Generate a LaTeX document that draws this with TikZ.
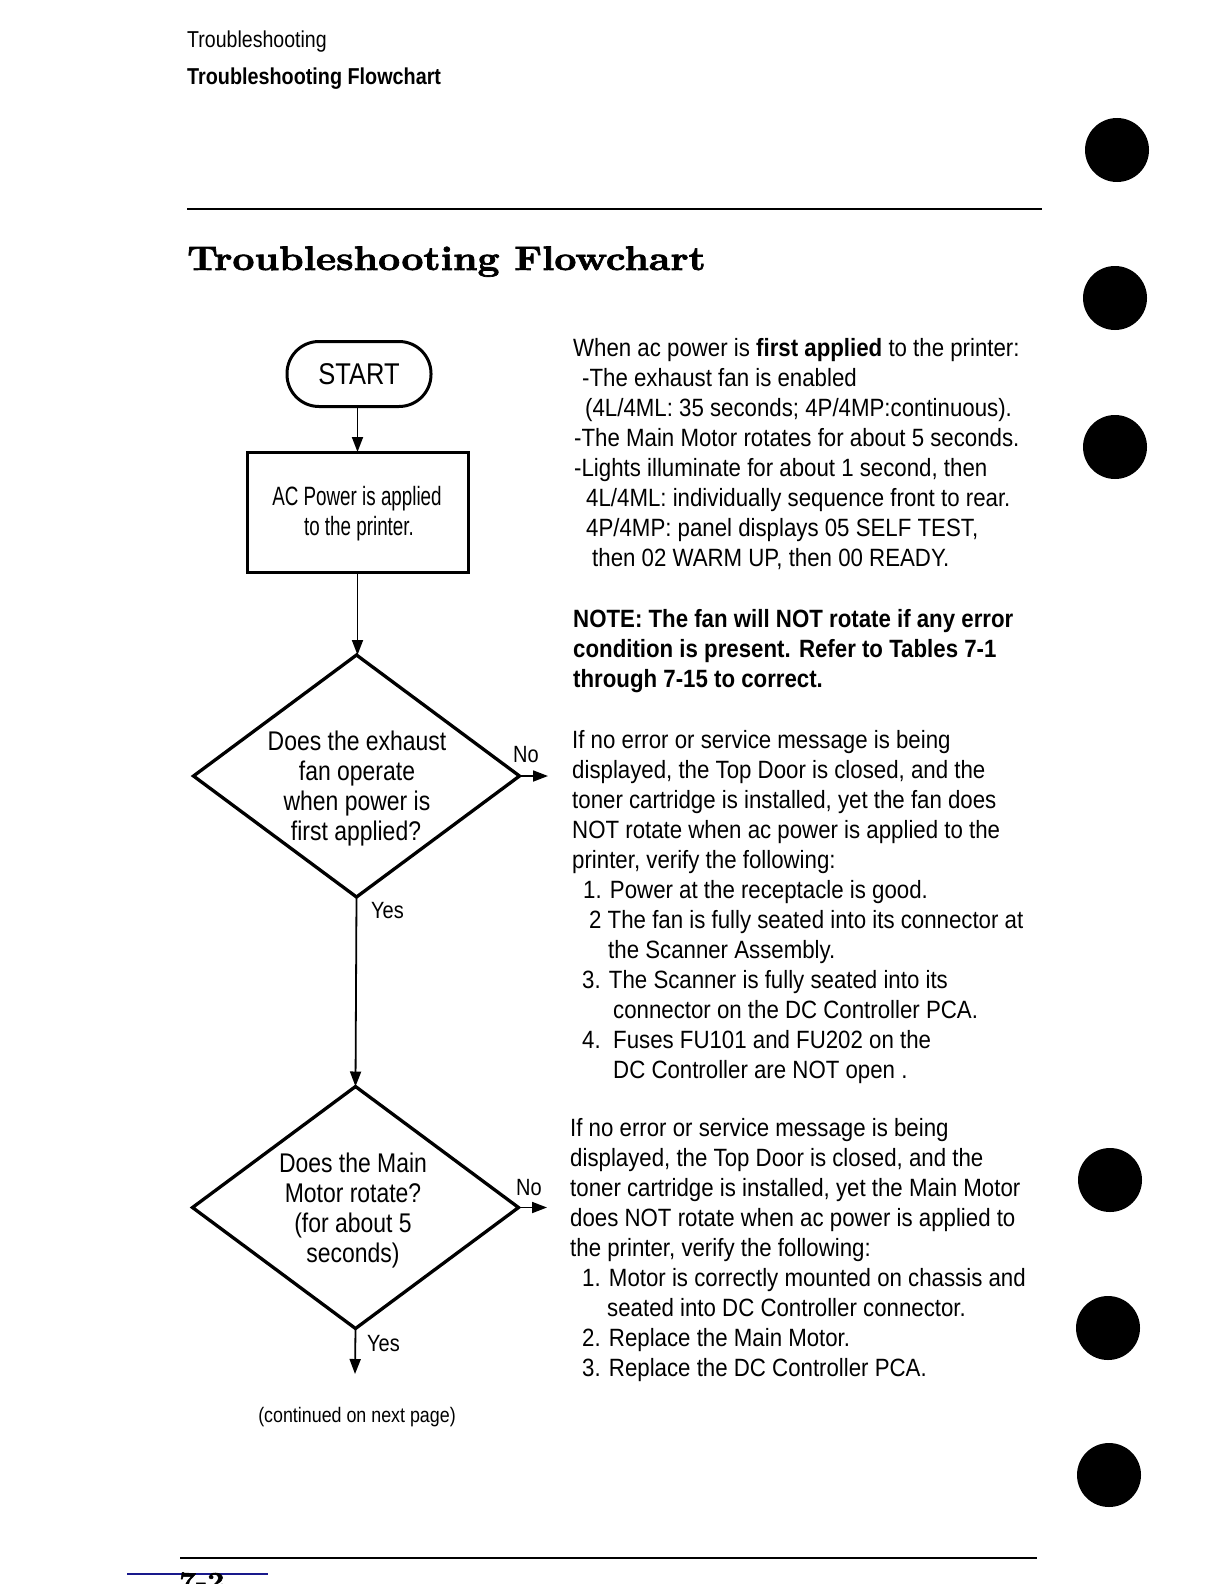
\documentclass[tikz,border=0pt]{standalone}
\usepackage{fontspec}
\usetikzlibrary{shapes.geometric,arrows.meta}
\newfontfamily\bodyf{Liberation Sans}[FakeStretch=0.89]
\newfontfamily\diaf{Liberation Sans}[FakeStretch=0.85]
\newfontfamily\boxf{Liberation Sans}[FakeStretch=0.71]
\newfontfamily\headf{Liberation Sans}[FakeStretch=0.85]
\newfontfamily\headbf{Liberation Sans Bold}[FakeStretch=0.86]
\newfontfamily\titlef{lmroman10-bold.otf}[FakeStretch=1.13,FakeBold=2]
\definecolor{navy}{RGB}{25,25,140}
\tikzset{
  body/.style={font=\bodyf\fontsize{25}{30}\selectfont, anchor=base west, inner sep=0pt},
  dline/.style={font=\diaf\fontsize{27}{30}\selectfont, anchor=base, inner sep=0pt},
  bline/.style={font=\boxf\fontsize{26.5}{30}\selectfont, anchor=base, inner sep=0pt},
  lbl/.style={font=\diaf\fontsize{23.5}{26}\selectfont, anchor=base west, inner sep=0pt},
  conn/.style={line width=1.8pt, -{Triangle[length=15pt,width=11pt]}},
  terminal/.style={draw, line width=3pt, rectangle, rounded corners=32pt, minimum width=144pt, minimum height=65pt, inner sep=0pt, outer sep=0pt, font=\headf\fontsize{30}{34}\selectfont},
  procbox/.style={draw, line width=3pt, rectangle, minimum width=221pt, minimum height=120pt, inner sep=0pt, outer sep=0pt},
  decision/.style={draw, line width=3.3pt, diamond, minimum width=326pt, minimum height=242pt, inner sep=0pt, outer sep=0pt},
  hole/.style={fill=black},
}
\begin{document}
\begin{tikzpicture}[x=1pt,y=-1pt]
\fill[white] (0,0) rectangle (1224,1584);
\useasboundingbox (0,0) rectangle (1224,1584);

% header
\node[font=\headf\fontsize{23}{26}\selectfont, anchor=base west, inner sep=0pt] (hd1) at (187,48) {Troubleshooting};
\node[font=\headbf\fontsize{23}{26}\selectfont, anchor=base west, inner sep=0pt] (hd2) at (187,85) {Troubleshooting Flowchart};
\draw[line width=1.5pt] (187,209) -- (1042,209);
\node[font=\titlef\fontsize{34}{40}\selectfont, anchor=base west, inner sep=0pt] (title) at (187,270) {Troubleshooting Flowchart};

% punch holes
\foreach \hx/\hy in {1117/150, 1115/298, 1115/447, 1110/1180, 1108/1328, 1109/1475}
  \fill[hole] (\hx,\hy) circle (32pt);

% flowchart nodes
\node[terminal] (start) at (359,374) {START};
\node[procbox] (box) at (357.5,512) {};
\node[bline] (bt1) at (357,505) {AC Power is applied};
\node[bline] (bt2) at (359,535) {to the printer.};

\node[decision] (d1) at (356.5,776) {};
\node[dline] (d1a) at (357,750) {Does the exhaust};
\node[dline] (d1b) at (357,780) {fan operate};
\node[dline] (d1c) at (357,810) {when power is};
\node[dline] (d1d) at (356,840) {first applied?};

\node[decision] (d2) at (355.5,1207.5) {};
\node[dline] (d2a) at (353,1172) {Does the Main};
\node[dline] (d2b) at (353,1202) {Motor rotate?};
\node[dline] (d2c) at (353,1232) {(for about 5};
\node[dline] (d2d) at (353,1262) {seconds)};

\coordinate (no1) at (548,776);
\coordinate (no2) at (547,1207.5);
\coordinate (yesend) at (355,1374);

% connectors
\draw[conn] (start.south -| box.north) -- (box.north);
\draw[conn] (box.south) -- (box.south |- d1.north);
\draw[conn] (d1.south) -- (d2.north);
\draw[conn] (d1.east) -- (no1);
\draw[conn] (d2.east) -- (no2);
\draw[conn] (d2.south) -- (yesend);

% labels
\node[lbl] (no1l) at (513,762) {No};
\node[lbl] (yes1l) at (371,918) {Yes};
\node[lbl] (no2l) at (516,1195) {No};
\node[lbl] (yes2l) at (367,1351) {Yes};
\node[font=\diaf\fontsize{21}{24}\selectfont, anchor=base, inner sep=0pt] (cont) at (357,1422) {(continued on next page)};

% paragraph 1
\node[body] (p1a) at (573,356) {When ac power is \textbf{first applied} to the printer:};
\node[body] (p1b) at (582,386) {-The exhaust fan is enabled};
\node[body] (p1c) at (585,416) {(4L/4ML: 35 seconds; 4P/4MP:continuous).};
\node[body] (p1d) at (574,446) {-The Main Motor rotates for about 5 seconds.};
\node[body] (p1e) at (574,476) {-Lights illuminate for about 1 second, then};
\node[body] (p1f) at (586,506) {4L/4ML: individually sequence front to rear.};
\node[body] (p1g) at (586,536) {4P/4MP: panel displays 05 SELF TEST,};
\node[body] (p1h) at (592,566) {then 02 WARM UP, then 00 READY.};
\node[body, font=\bodyf\bfseries\fontsize{25}{30}\selectfont] (n1) at (573,627) {NOTE: The fan will NOT rotate if any error};
\node[body, font=\bodyf\bfseries\fontsize{25}{30}\selectfont] (n2) at (573,657) {condition is present. Refer to Tables 7-1};
\node[body, font=\bodyf\bfseries\fontsize{25}{30}\selectfont] (n3) at (573,687) {through 7-15 to correct.};

% paragraph 2
\node[body] (p2a) at (572,748) {If no error or service message is being};
\node[body] (p2b) at (572,778) {displayed, the Top Door is closed, and the};
\node[body] (p2c) at (572,808) {toner cartridge is installed, yet the fan does};
\node[body] (p2d) at (572,838) {NOT rotate when ac power is applied to the};
\node[body] (p2e) at (572,868) {printer, verify the following:};
\node[body] (p2f) at (583,898) {1. Power at the receptacle is good.};
\node[body] (p2g) at (589,928) {2 The fan is fully seated into its connector at};
\node[body] (p2h) at (608,958) {the Scanner Assembly.};
\node[body] (p2i) at (582,988) {3. The Scanner is fully seated into its};
\node[body] (p2j) at (613,1018) {connector on the DC Controller PCA.};
\node[body] (p2k) at (582,1048) {4.};
\node[body] (p2l) at (613,1048) {Fuses FU101 and FU202 on the};
\node[body] (p2m) at (613,1078) {DC Controller are NOT open .};

% paragraph 3
\node[body] (p3a) at (570,1136) {If no error or service message is being};
\node[body] (p3b) at (570,1166) {displayed, the Top Door is closed, and the};
\node[body] (p3c) at (570,1196) {toner cartridge is installed, yet the Main Motor};
\node[body] (p3d) at (570,1226) {does NOT rotate when ac power is applied to};
\node[body] (p3e) at (570,1256) {the printer, verify the following:};
\node[body] (p3f) at (582,1286) {1. Motor is correctly mounted on chassis and};
\node[body] (p3g) at (607,1316) {seated into DC Controller connector.};
\node[body] (p3h) at (582,1346) {2. Replace the Main Motor.};
\node[body] (p3i) at (582,1376) {3. Replace the DC Controller PCA.};

% footer
\draw[line width=2.5pt] (180,1558) -- (1037,1558);
\draw[navy, line width=1.5pt] (127,1574) -- (268,1574);
\node[font=\titlef\fontsize{26}{30}\selectfont, anchor=base west, inner sep=0pt] (pg) at (179,1590) {7-2};
\end{tikzpicture}
\end{document}
